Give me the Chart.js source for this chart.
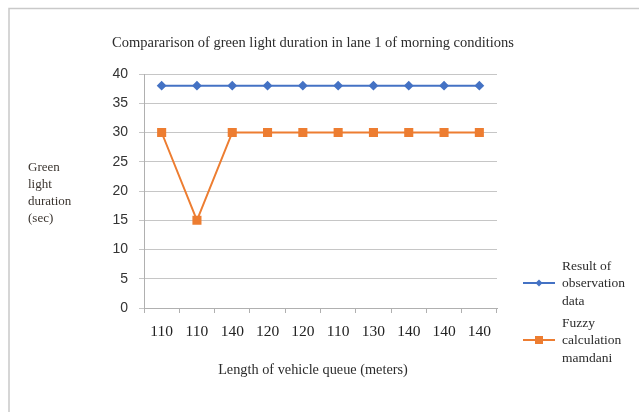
<!DOCTYPE html>
<html>
<head>
<meta charset="utf-8">
<script src="https://cdn.jsdelivr.net/npm/chart.js@4.4.1/dist/chart.umd.min.js"></script>
<style>
  body { margin: 0; background: #fff; }
  #wrap { width: 639px; height: 412px; }
</style>
</head>
<body>
<div id="wrap"><canvas id="myChart" width="639" height="412"></canvas></div>
<script>
var categorias = ["110", "110", "140", "120", "120", "110", "130", "140", "140", "140"];
var observacion = [38, 38, 38, 38, 38, 38, 38, 38, 38, 38];
var fuzzy = [30, 15, 30, 30, 30, 30, 30, 30, 30, 30];
var etiquetas = [["Result of", "observation", "data"], ["Fuzzy", "calculation", "mamdani"]];
var titulo = "Compararison of green light duration in lane 1 of morning conditions";
var tituloY = ["Green", "light", "duration", "(sec)"];
var tituloX = "Length of vehicle queue (meters)";

var serif = "'Liberation Serif', 'Times New Roman', serif";

var textos = {
    id: 'textos',
    beforeDraw: function(chart)
    {
        var ctx = chart.ctx;
        ctx.save();
        // marco
        ctx.strokeStyle = '#c9c9c9';
        ctx.lineWidth = 1.5;
        ctx.beginPath();
        ctx.moveTo(9, 412);
        ctx.lineTo(9, 8.5);
        ctx.lineTo(639, 8.5);
        ctx.stroke();
        ctx.restore();
    },
    afterDraw: function(chart)
    {
        var ctx = chart.ctx;
        ctx.save();
        ctx.fillStyle = '#2b2b2b';
        ctx.textBaseline = 'middle';
        ctx.font = "14.5px " + serif;
        ctx.textAlign = 'center';
        ctx.fillText(titulo, 313, 43);
        ctx.font = "14.3px " + serif;
        ctx.fillText(tituloX, 313, 370);

        ctx.textAlign = 'left';
        ctx.fillStyle = '#3b3530';
        ctx.font = "13px " + serif;
        for (var i = 0; i < tituloY.length; i++) {
            ctx.fillText(tituloY[i], 28, 168 + i * 17);
        }

        // leyenda
        var ys = [283, 340];
        for (var d = 0; d < chart.data.datasets.length; d++) {
            var ds = chart.data.datasets[d];
            var y = ys[d];
            ctx.strokeStyle = ds.borderColor;
            ctx.lineWidth = 2;
            ctx.beginPath();
            ctx.moveTo(523, y);
            ctx.lineTo(555, y);
            ctx.stroke();
            ctx.fillStyle = ds.backgroundColor;
            if (d == 0) {
                ctx.beginPath();
                ctx.moveTo(539, y - 3.5);
                ctx.lineTo(542.5, y);
                ctx.lineTo(539, y + 3.5);
                ctx.lineTo(535.5, y);
                ctx.closePath();
                ctx.fill();
            } else {
                ctx.fillRect(535, y - 4, 8, 8);
            }
            ctx.fillStyle = '#2b2b2b';
            ctx.font = "13.5px " + serif;
            for (var k = 0; k < etiquetas[d].length; k++) {
                ctx.fillText(etiquetas[d][k], 562, y - 17 + k * 17.5);
            }
        }
        ctx.restore();
    }
};

var ctx = document.getElementById("myChart").getContext('2d');
var myChart = new Chart(ctx, {
    type: 'line',
    data: {
        labels: categorias,
        datasets: [{
            label: etiquetas[0].join(' '),
            data: observacion,
            borderColor: '#4472c4',
            backgroundColor: '#4472c4',
            borderWidth: 2,
            pointStyle: 'rectRot',
            pointRadius: 3.5,
            pointHoverRadius: 3.5
        }, {
            label: etiquetas[1].join(' '),
            data: fuzzy,
            borderColor: '#ed7d31',
            backgroundColor: '#ed7d31',
            borderWidth: 2,
            pointStyle: 'rect',
            pointRadius: 5,
            pointHoverRadius: 5
        }]
    },
    options: {
        responsive: false,
        animation: false,
        layout: { padding: { left: 94, right: 142, top: 74, bottom: 0 } },
        plugins: {
            legend: { display: false },
            title: { display: false },
            tooltip: { enabled: false }
        },
        scales: {
            x: {
                offset: true,
                grid: {
                    offset: true,
                    drawOnChartArea: false,
                    drawTicks: true,
                    tickLength: 5,
                    color: '#b0b0b0'
                },
                border: { color: '#b0b0b0', width: 1 },
                ticks: {
                    color: '#222',
                    font: { family: serif, size: 15.5 },
                    padding: 10,
                    maxRotation: 0,
                    autoSkip: false
                },
                afterFit: function(scale) { scale.height = 104; }
            },
            y: {
                min: 0,
                max: 40,
                grid: {
                    color: '#c6c6c6',
                    tickLength: 5,
                    drawTicks: true
                },
                border: { color: '#b0b0b0', width: 1 },
                ticks: {
                    stepSize: 5,
                    color: '#333',
                    font: { family: "'Liberation Sans', Arial, sans-serif", size: 14 },
                    padding: 11
                },
                afterFit: function(scale) { scale.width = 50; }
            }
        }
    },
    plugins: [textos]
});
</script>
</body>
</html>
